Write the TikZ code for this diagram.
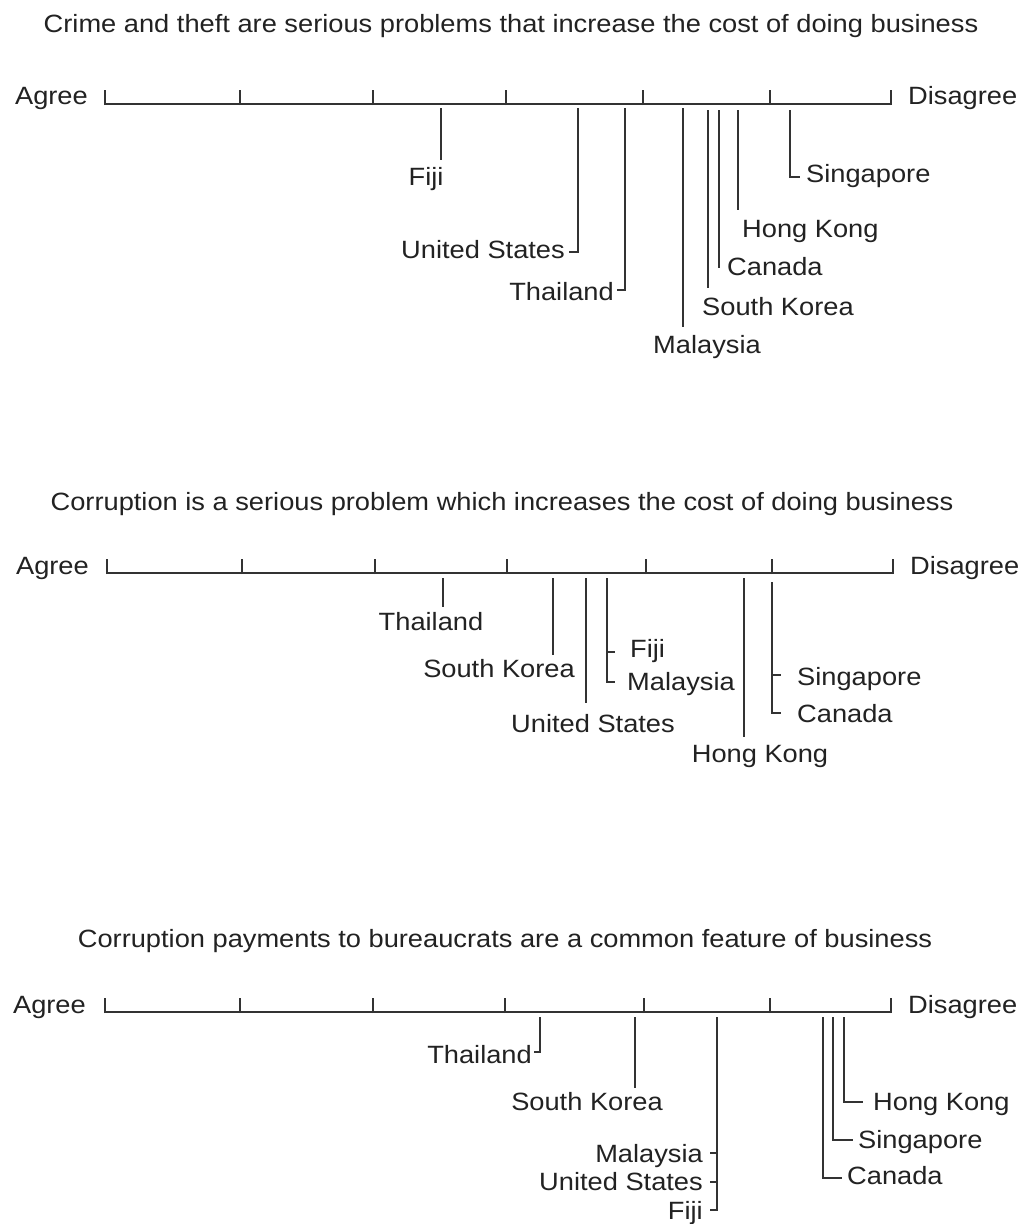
\documentclass[tikz,border=0pt]{standalone}
\usepackage{fontspec}
\setmainfont{Liberation Sans}[FakeStretch=1.09]
\definecolor{inkline}{HTML}{333333}
\definecolor{inktext}{HTML}{222222}
\begin{document}
\begin{tikzpicture}[x=1pt,y=-1pt,
  axisln/.style={draw=inkline,line width=2.2pt,line cap=butt},
  markln/.style={draw=inkline,line width=2.2pt,line cap=butt},
  lbl/.style={inner sep=0pt,text=inktext,font=\fontsize{25}{30}\selectfont},
  ttl/.style={inner sep=0pt,text=inktext,font=\fontsize{25}{30}\selectfont}]
\useasboundingbox[fill=white] (0,0) rectangle (1023,1224);

% ---------- Scale 1 ----------
\node[ttl,anchor=base] (t1) at (511,32) {Crime and theft are serious problems that increase the cost of doing business};
\node[lbl,anchor=base east] (a1) at (88,104) {Agree};
\node[lbl,anchor=base west] (d1) at (908,104) {Disagree};
\coordinate (a1L) at (105,104);
\coordinate (a1R) at (891,104);
\draw[axisln] (a1L) -- (a1R);
\foreach \x [count=\i] in {105,240,373,506,643,770,891}
  \draw[axisln] (\x,105.1) -- (\x,90);

\coordinate (f1a) at (441,108); \coordinate (f1b) at (441,160);
\node[lbl,anchor=base] (f1) at (426,185) {Fiji};
\draw[markln] (f1a) -- (f1b);

\coordinate (u1a) at (578,108); \coordinate (u1b) at (578,252); \coordinate (u1c) at (569,252);
\node[lbl,anchor=base east] (u1) at (565,258) {United States};
\draw[markln] (u1a) -- (u1b) -- (u1c);

\coordinate (th1a) at (625,108); \coordinate (th1b) at (625,290); \coordinate (th1c) at (617,290);
\node[lbl,anchor=base east] (th1) at (614,300) {Thailand};
\draw[markln] (th1a) -- (th1b) -- (th1c);

\coordinate (m1a) at (683,108); \coordinate (m1b) at (683,327);
\node[lbl,anchor=base] (m1) at (707,353) {Malaysia};
\draw[markln] (m1a) -- (m1b);

\coordinate (k1a) at (708,110); \coordinate (k1b) at (708,288);
\node[lbl,anchor=base west] (k1) at (702,315) {South Korea};
\draw[markln] (k1a) -- (k1b);

\coordinate (c1a) at (719,110); \coordinate (c1b) at (719,268);
\node[lbl,anchor=base west] (c1) at (727,275) {Canada};
\draw[markln] (c1a) -- (c1b);

\coordinate (h1a) at (738,110); \coordinate (h1b) at (738,210);
\node[lbl,anchor=base west] (h1) at (742,237) {Hong Kong};
\draw[markln] (h1a) -- (h1b);

\coordinate (s1a) at (790,110); \coordinate (s1b) at (790,177); \coordinate (s1c) at (800,177);
\node[lbl,anchor=base west] (s1) at (806,182) {Singapore};
\draw[markln] (s1a) -- (s1b) -- (s1c);

% ---------- Scale 2 ----------
\node[ttl,anchor=base] (t2) at (502,510) {Corruption is a serious problem which increases the cost of doing business};
\node[lbl,anchor=base east] (a2) at (89,574) {Agree};
\node[lbl,anchor=base west] (d2) at (910,574) {Disagree};
\coordinate (a2L) at (107,573);
\coordinate (a2R) at (893,573);
\draw[axisln] (a2L) -- (a2R);
\foreach \x in {107,242,375,507,646,772,893}
  \draw[axisln] (\x,574.1) -- (\x,559);

\coordinate (th2a) at (443,578); \coordinate (th2b) at (443,607);
\node[lbl,anchor=base] (th2) at (431,630) {Thailand};
\draw[markln] (th2a) -- (th2b);

\coordinate (k2a) at (553,578); \coordinate (k2b) at (553,655);
\node[lbl,anchor=base] (k2) at (499,677) {South Korea};
\draw[markln] (k2a) -- (k2b);

\coordinate (u2a) at (586,578); \coordinate (u2b) at (586,703);
\node[lbl,anchor=base] (u2) at (593,732) {United States};
\draw[markln] (u2a) -- (u2b);

\coordinate (fm2a) at (607,578); \coordinate (fm2b) at (607,682); \coordinate (fm2c) at (615,682);
\coordinate (fm2d) at (607,652); \coordinate (fm2e) at (615,652);
\node[lbl,anchor=base west] (f2) at (630,657) {Fiji};
\node[lbl,anchor=base west] (m2) at (627,690) {Malaysia};
\draw[markln] (fm2a) -- (fm2b) -- (fm2c);
\draw[markln] (fm2d) -- (fm2e);

\coordinate (h2a) at (744,578); \coordinate (h2b) at (744,737);
\node[lbl,anchor=base] (h2) at (760,762) {Hong Kong};
\draw[markln] (h2a) -- (h2b);

\coordinate (sc2a) at (772,582); \coordinate (sc2b) at (772,713); \coordinate (sc2c) at (781,713);
\coordinate (sc2d) at (772,675); \coordinate (sc2e) at (781,675);
\node[lbl,anchor=base west] (s2) at (797,685) {Singapore};
\node[lbl,anchor=base west] (c2) at (797,722) {Canada};
\draw[markln] (sc2a) -- (sc2b) -- (sc2c);
\draw[markln] (sc2d) -- (sc2e);

% ---------- Scale 3 ----------
\node[ttl,anchor=base] (t3) at (505,947) {Corruption payments to bureaucrats are a common feature of business};
\node[lbl,anchor=base east] (a3) at (86,1013) {Agree};
\node[lbl,anchor=base west] (d3) at (908,1013) {Disagree};
\coordinate (a3L) at (105,1012);
\coordinate (a3R) at (891,1012);
\draw[axisln] (a3L) -- (a3R);
\foreach \x in {105,240,373,505,644,770,891}
  \draw[axisln] (\x,1013.1) -- (\x,998);

\coordinate (th3a) at (540,1017); \coordinate (th3b) at (540,1052); \coordinate (th3c) at (534,1052);
\node[lbl,anchor=base east] (th3) at (532,1063) {Thailand};
\draw[markln] (th3a) -- (th3b) -- (th3c);

\coordinate (k3a) at (635,1017); \coordinate (k3b) at (635,1088);
\node[lbl,anchor=base] (k3) at (587,1110) {South Korea};
\draw[markln] (k3a) -- (k3b);

\coordinate (g3a) at (717,1017); \coordinate (g3b) at (717,1210); \coordinate (g3c) at (710,1210);
\coordinate (g3d) at (717,1153); \coordinate (g3e) at (710,1153);
\coordinate (g3f) at (717,1182); \coordinate (g3g) at (710,1182);
\node[lbl,anchor=base east] (m3) at (703,1162) {Malaysia};
\node[lbl,anchor=base east] (u3) at (703,1190) {United States};
\node[lbl,anchor=base east] (f3) at (703,1219) {Fiji};
\draw[markln] (g3a) -- (g3b) -- (g3c);
\draw[markln] (g3d) -- (g3e);
\draw[markln] (g3f) -- (g3g);

\coordinate (c3a) at (823,1017); \coordinate (c3b) at (823,1178); \coordinate (c3c) at (842,1178);
\node[lbl,anchor=base west] (c3) at (847,1184) {Canada};
\draw[markln] (c3a) -- (c3b) -- (c3c);

\coordinate (s3a) at (833,1017); \coordinate (s3b) at (833,1140); \coordinate (s3c) at (853,1140);
\node[lbl,anchor=base west] (s3) at (858,1148) {Singapore};
\draw[markln] (s3a) -- (s3b) -- (s3c);

\coordinate (h3a) at (844,1017); \coordinate (h3b) at (844,1102); \coordinate (h3c) at (863,1102);
\node[lbl,anchor=base west] (h3) at (873,1110) {Hong Kong};
\draw[markln] (h3a) -- (h3b) -- (h3c);
\end{tikzpicture}
\end{document}
